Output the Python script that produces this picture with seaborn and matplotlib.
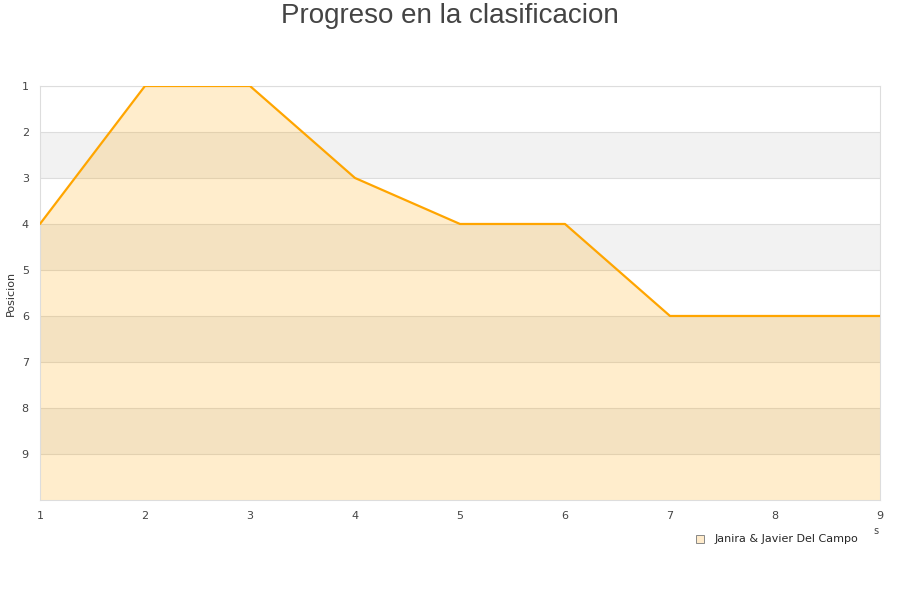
import numpy as np
import pandas as pd
import seaborn as sns
import matplotlib.pyplot as plt

jornadas = [1, 2, 3, 4, 5, 6, 7, 8, 9]
posicion = [4, 1, 1, 3, 4, 4, 6, 6, 6]
pareja = 'Janira & Javier Del Campo'

df = pd.DataFrame({'jornada': jornadas, 'posicion': posicion})

sns.set_style('white')
fig = plt.figure(figsize=(9, 6), dpi=100)
ax = fig.add_axes([0.0444, 0.1667, 0.9334, 0.69])

# alternating bands
for k in range(1, 10):
    if k % 2 == 0:
        ax.axhspan(k, k + 1, color='#F2F2F2', zorder=0, lw=0)
    ax.axhline(k, color='#DDDDDD', lw=0.8, zorder=1)

ax.fill_between(df['jornada'], df['posicion'], 10, color='#FFA500', alpha=0.2, lw=0, zorder=2)
sns.lineplot(data=df, x='jornada', y='posicion', color='#FFA500', lw=1.6, ax=ax, zorder=3)

ax.set_xlim(1, 9)
ax.set_ylim(10, 1)
ax.set_yticks(range(1, 10))
ax.set_xticks(jornadas)
ax.tick_params(labelsize=8, colors='#444444', length=0, pad=8)
ax.set_xlabel('')
ax.set_ylabel('Posicion', fontsize=8, color='#333333')
for s in ax.spines.values():
    s.set_color('#DDDDDD')

fig.text(0.5, 0.974, 'Progreso en la clasificacion', ha='center', va='center',
         fontsize=20, color='#444444', family='Liberation Sans')
fig.text(0.973, 0.11, 's', fontsize=7, color='#444444', ha='center')

h = plt.Line2D([], [], marker='s', ls='', markersize=6, markerfacecolor='#FFEBCB',
               markeredgecolor='#888888', markeredgewidth=0.7)
fig.legend([h], [pareja], loc='center right', bbox_to_anchor=(0.965, 0.101),
           frameon=False, fontsize=8, handletextpad=0.3)

fig.savefig('out.png', dpi=100)
